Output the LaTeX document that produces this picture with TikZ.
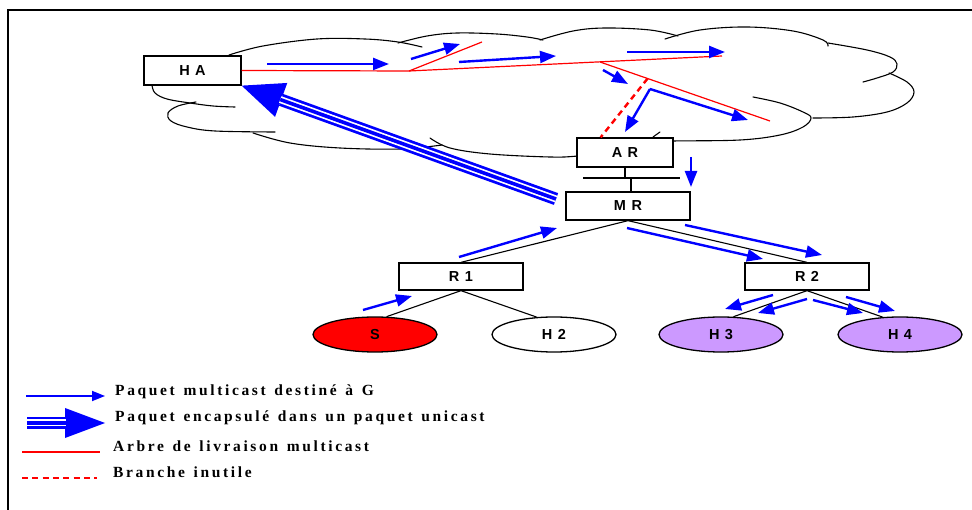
\documentclass[tikz,border=0pt]{standalone}
\usepackage{fontspec}
\setmainfont{Liberation Serif}
\newfontfamily\boxfont{Liberation Sans}[LetterSpace=10]
\newfontfamily\legfont{Liberation Serif}[LetterSpace=17,WordSpace=1.33]
\usetikzlibrary{arrows.meta,calc,shapes.geometric}

\definecolor{pktblue}{RGB}{0,0,255}
\definecolor{treered}{RGB}{255,0,0}
\definecolor{lavender}{RGB}{204,153,255}

\tikzset{
  router/.style={draw, line width=1.3pt, fill=white, rectangle, inner sep=0pt,
    font=\boxfont\bfseries\fontsize{14.5}{16}\selectfont},
  hostnode/.style={draw, line width=1.3pt, ellipse, inner sep=0pt,
    minimum width=124pt, minimum height=35pt,
    font=\boxfont\bfseries\fontsize{14.5}{16}\selectfont},
  cloudline/.style={line width=1.1pt, line cap=round},
  link/.style={line width=1.1pt},
  pkt/.style={pktblue, line width=2.4pt, -{Triangle[length=16pt,width=12pt]}},
  fatouter/.style={pktblue, line width=12.5pt},
  fatgap/.style={white, line width=7pt},
  fatcore/.style={pktblue, line width=3.6pt},
  tree/.style={treered, line width=1.2pt},
  deadbranch/.style={treered, line width=2.4pt, dash pattern=on 6pt off 4.3pt},
  legtext/.style={anchor=base west, inner sep=0pt,
    font=\legfont\bfseries\fontsize{15.5}{18}\selectfont},
}

\begin{document}
\begin{tikzpicture}[x=1pt,y=-1pt]
\useasboundingbox (0,0) rectangle (972,510);

% frame
\draw[line width=2pt] (8,510) -- (8,10) -- (972,10);

% cloud outline (overlapping bumps)
\begin{scope}[cloudline]
\draw plot[smooth, tension=0.6] coordinates {(229,55) (263,46) (317,39) (365,39) (398,42) (422,47)};
\draw plot[smooth, tension=0.6] coordinates {(398,43) (427,36) (457,33) (497,34) (527,37) (543,40)};
\draw plot[smooth, tension=0.6] coordinates {(540,40) (573,31) (605,28) (650,30) (678,36)};
\draw plot[smooth, tension=0.6] coordinates {(665,39) (700,30) (747,27) (793,31) (823,40) (828,46)};
\draw plot[smooth, tension=0.6] coordinates {(828,43) (867,50) (890,57) (897,64) (893,72) (877,78) (863,82)};
\draw plot[smooth, tension=0.6] coordinates {(889,73) (907,82) (914,92) (907,103) (887,112) (853,117) (813,118)};
\draw plot[smooth, tension=0.6] coordinates {(753,97) (780,103) (803,112) (811,118) (803,127) (780,135) (740,140) (673,141) (640,142)};
\draw plot[smooth, tension=0.6] coordinates {(430,138) (450,148) (490,154) (550,157) (578,156) (610,152)};
\draw (653,137) -- (660,132);
\draw plot[smooth, tension=0.6] coordinates {(253,133) (290,143) (340,148) (400,149) (442,145)};
\draw plot[smooth, tension=0.6] coordinates {(196,102) (178,106) (168,113) (171,121) (187,127) (215,131) (275,132)};
\draw plot[smooth, tension=0.6] coordinates {(152,85) (155,93) (167,99) (190,103) (213,106) (235,107)};
\end{scope}

% routers
\node[router, minimum width=97pt, minimum height=29pt] (ha) at (192.5,70.5) {H A};
\node[router, minimum width=96pt, minimum height=29pt] (ar) at (625,152.5) {A R};
\node[router, minimum width=124pt, minimum height=28pt] (mr) at (628,206) {M R};
\node[router, minimum width=124pt, minimum height=27pt] (r1) at (461,276.5) {R 1};
\node[router, minimum width=124pt, minimum height=27pt] (r2) at (807,276.5) {R 2};

% hosts
\node[hostnode, fill=treered] (s) at (375,334.5) {S};
\node[hostnode, fill=white] (h2) at (554,334.5) {H 2};
\node[hostnode, fill=lavender] (h3) at (721,334.5) {H 3};
\node[hostnode, fill=lavender] (h4) at (900,334.5) {H 4};

% local links
\coordinate (busL) at (583,178);
\coordinate (busR) at (680,178);
\draw[link] (busL) -- (busR);
\draw[link] (ar.south) -- (ar.south |- busL);
\draw[link] ($(mr.north)+(3,0)$) -- ($(mr.north |- busL)+(3,0)$);
\draw[link] (mr.south) -- (r1.north);
\draw[link] (mr.south) -- (r2.north);
\draw[link] (r1.south) -- (s.57);
\draw[link] (r1.south) -- (h2.135);
\draw[link] (r2.south) -- (h3.55);
\draw[link] (r2.south) -- (h4.135);

% multicast delivery tree
\coordinate (j1) at (409,71);
\coordinate (j2) at (600,62);
\coordinate (e1) at (482,42);
\coordinate (e2) at (722,56);
\coordinate (e3) at (770,121);
\draw[tree] (ha.east) -- (j1) -- (e2);
\draw[tree] (j1) -- (e1);
\draw[tree] (j2) -- (e3);
\draw[deadbranch] ($(j2)!0.28!(e3)$) -- ($(ar.north west)!0.25!(ar.north east)$);

% multicast packets
\draw[pkt] (267,64) -- (389,64);
\draw[pkt] (411,59) -- (460,44);
\draw[pkt] (459,62) -- (556,56);
\draw[pkt] (627,52) -- (725,52);
\draw[pkt] (603,70) -- (628,84);
\draw[pkt] (650,89) -- (625,132);
\draw[pkt] (650,89) -- (748,120);
\draw[pkt] (691,157) -- (691,187);
\draw[pkt] (459,257) -- (557,228);
\draw[pkt] (363,310) -- (412,296);
\draw[pkt] (627,228) -- (763,259);
\draw[pkt] (685,225) -- (822,255);
\draw[pkt] (773,295) -- (725,309);
\draw[pkt] (807,299) -- (758,313);
\draw[pkt] (813,300) -- (863,313);
\draw[pkt] (846,297) -- (895,311);

% tunnelled packet MR -> HA
\coordinate (tun) at (556,199);
\draw[fatouter, -{Triangle[length=42pt,width=36pt,line width=0pt]}] (tun) -- (ha.south east);
\draw[fatgap, shorten >=41pt] (tun) -- (ha.south east);
\draw[fatcore, shorten >=41pt] (tun) -- (ha.south east);

% legend
\coordinate (l1a) at (26,396);  \coordinate (l1b) at (105,396);
\coordinate (l2a) at (27,423);  \coordinate (l2b) at (105,423);
\coordinate (l3a) at (22,452);  \coordinate (l3b) at (100,452);
\coordinate (l4a) at (22,478);  \coordinate (l4b) at (97,478);
\draw[pktblue, line width=1.8pt, -{Triangle[length=13pt,width=10pt]}] (l1a) -- (l1b);
\draw[fatouter, line width=12pt, -{Triangle[length=40pt,width=30pt,line width=0pt]}] (l2a) -- (l2b);
\draw[fatgap, shorten >=39pt] (l2a) -- (l2b);
\draw[fatcore, shorten >=39pt] (l2a) -- (l2b);
\draw[tree, line width=1.5pt] (l3a) -- (l3b);
\draw[deadbranch] (l4a) -- (l4b);

\node[legtext] (t1) at (115,396) {Paquet multicast destiné à G};
\node[legtext] (t2) at (115,422) {Paquet encapsulé dans un paquet unicast};
\node[legtext] (t3) at (113,451) {Arbre de livraison multicast};
\node[legtext] (t4) at (113,477) {Branche inutile};
\end{tikzpicture}
\end{document}
